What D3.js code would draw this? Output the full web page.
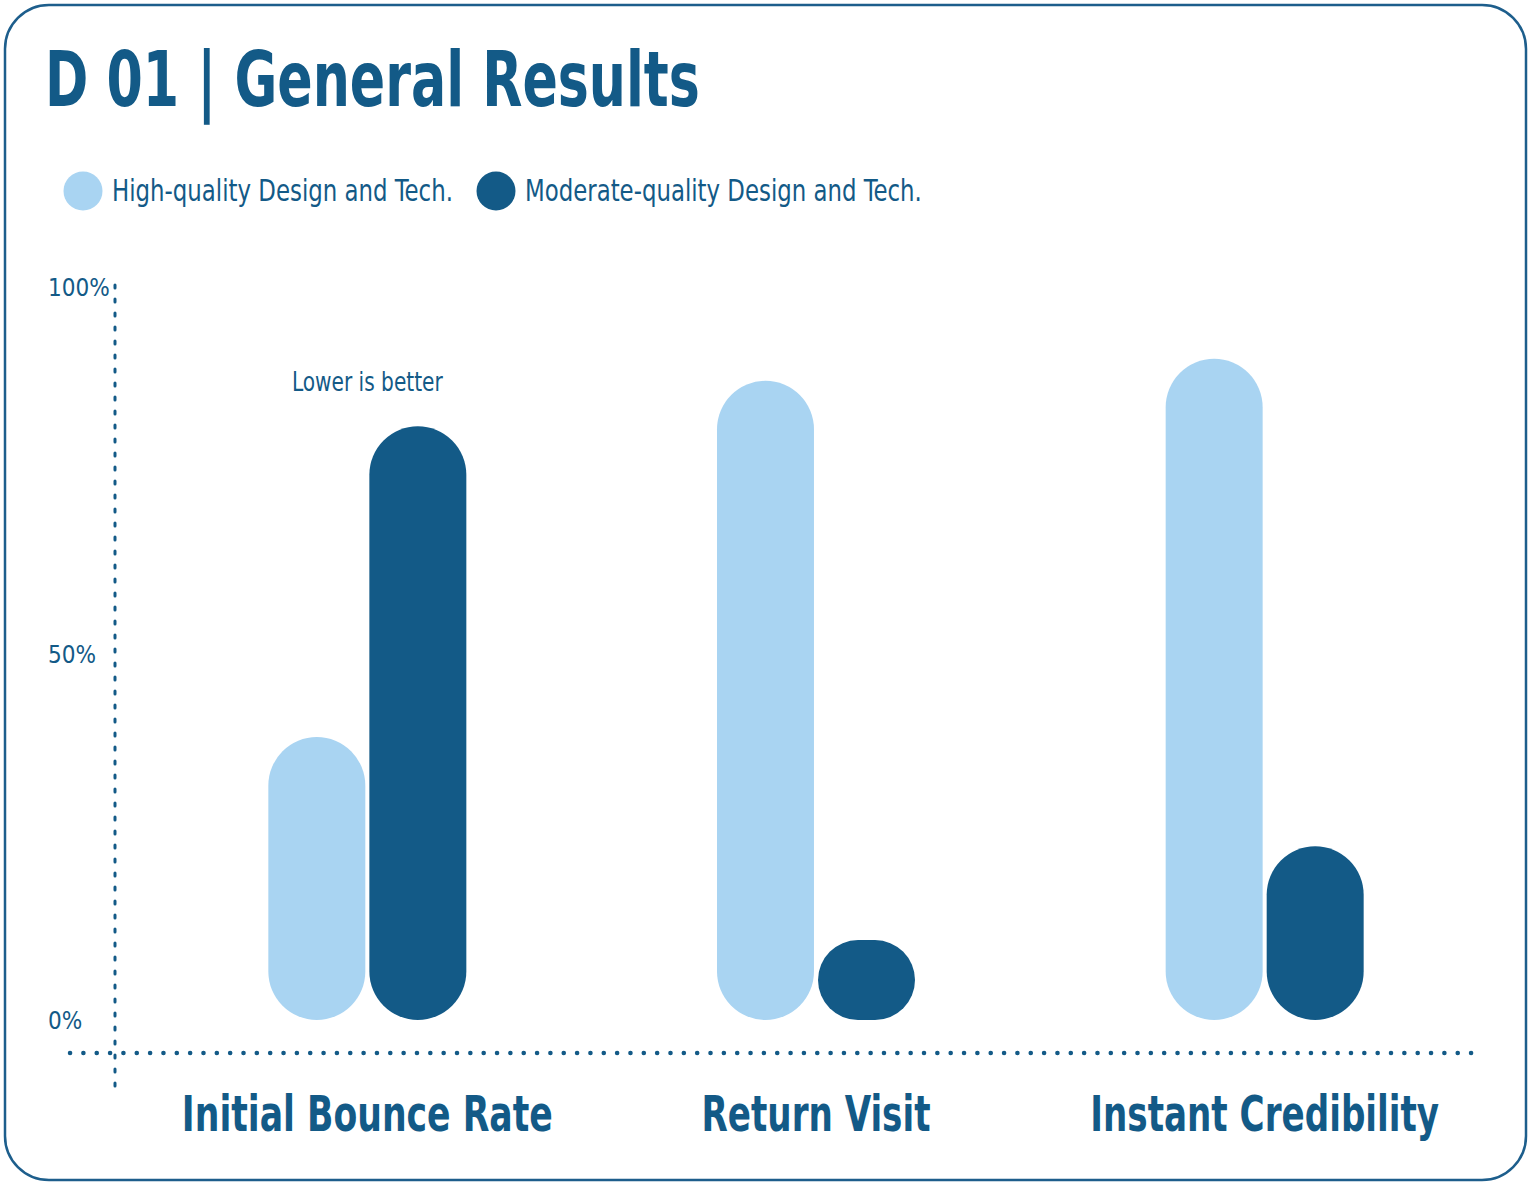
<!DOCTYPE html>
<html>
<head>
<meta charset="utf-8">
<script src="https://cdn.jsdelivr.net/npm/d3@7"></script>
<style>
  html, body { margin: 0; padding: 0; background: #fff; }
  svg { display: block; }
  text { font-family: "Liberation Sans Narrow", "DejaVu Sans Condensed", "Liberation Sans", sans-serif; }
</style>
</head>
<body>
<div id="chart"></div>
<script>
// data
const categories = ["Initial Bounce Rate", "Return Visit", "Instant Credibility"];
const seriesNames = ["High-quality Design and Tech.", "Moderate-quality Design and Tech."];
const highQuality = [38.6, 87.2, 90.2];
const moderateQuality = [81.0, 10.9, 23.7];
const yTicks = [0, 50, 100];
const yTickLabels = ["0%", "50%", "100%"];

const dark = "#135a87";
const light = "#a9d4f2";

const W = 1536, H = 1185;

const svg = d3.select("#chart")
    .append("svg")
    .attr("width", W)
    .attr("height", H);

// border
svg.append("rect")
    .attr("x", 5).attr("y", 5)
    .attr("width", 1521).attr("height", 1175)
    .attr("rx", 44).attr("ry", 44)
    .attr("fill", "#fff")
    .attr("stroke", "#1d5e8c")
    .attr("stroke-width", 2.5);

// helper: squeeze text horizontally to a measured width (x,y = anchor point)
function fit(sel, x, y, w) {
    const natural = sel.node().getComputedTextLength();
    const k = Math.min(1, w / natural);
    sel.attr("x", 0).attr("y", 0)
        .attr("transform", `translate(${x},${y}) scale(${k},1)`);
    return sel;
}

// title
fit(svg.append("text")
    .attr("fill", dark)
    .attr("font-size", 76)
    .attr("font-weight", "bold")
    .text("D 01 | General Results"), 45, 106, 655);

// legend
const legendPos = [{cx: 83, tx: 112, w: 341}, {cx: 496, tx: 525, w: 397}];
const legend = svg.append("g");
seriesNames.forEach((name, i) => {
    legend.append("circle")
        .attr("cx", legendPos[i].cx).attr("cy", 191).attr("r", 19.5)
        .attr("fill", i === 0 ? light : dark);
    fit(legend.append("text")
        .attr("fill", dark)
        .attr("font-size", 31)
        .text(name), legendPos[i].tx, 201, legendPos[i].w);
});

// scales
const y = d3.scaleLinear().domain([0, 100]).range([1020, 287]);
const x = d3.scaleBand().domain(categories).range([143, 1489]).padding(0);
const xSub = d3.scaleBand().domain(seriesNames).range([-99, 99]).paddingInner(0.04);
const color = d3.scaleOrdinal().domain(seriesNames).range([light, dark]);

// axes lines (dotted)
svg.append("line")
    .attr("x1", 115).attr("x2", 115)
    .attr("y1", 285).attr("y2", 1092)
    .attr("stroke", dark)
    .attr("stroke-width", 3)
    .attr("stroke-linecap", "round")
    .attr("stroke-dasharray", "3 11");

svg.append("line")
    .attr("x1", 70).attr("x2", 1472)
    .attr("y1", 1053).attr("y2", 1053)
    .attr("stroke", dark)
    .attr("stroke-width", 4.5)
    .attr("stroke-linecap", "round")
    .attr("stroke-dasharray", "0.1 13.243");

// y tick labels
const yAxis = svg.append("g")
    .call(d3.axisLeft(y).tickValues(yTicks).tickSize(0)
        .tickFormat((d, i) => yTickLabels[i]));
yAxis.select(".domain").remove();
yAxis.selectAll("text")
    .attr("x", 48)
    .attr("dy", "0.36em")
    .attr("text-anchor", "start")
    .attr("fill", dark)
    .attr("font-size", 24)
    .style("font-family", "'Liberation Sans Narrow', 'DejaVu Sans Condensed', sans-serif");

// bars
const rows = categories.map((c, i) => ({cat: c, values: [highQuality[i], moderateQuality[i]]}));
const groups = svg.selectAll(".group")
    .data(rows)
    .enter()
    .append("g")
    .attr("class", "group")
    .attr("transform", d => `translate(${x(d.cat) + x.bandwidth() / 2},0)`);

groups.selectAll("rect")
    .data(d => d.values.map((v, i) => ({key: seriesNames[i], value: v})))
    .enter()
    .append("rect")
    .attr("x", d => xSub(d.key))
    .attr("y", d => y(d.value))
    .attr("width", xSub.bandwidth())
    .attr("height", d => y(0) - y(d.value))
    .attr("rx", d => Math.min(xSub.bandwidth() / 2, (y(0) - y(d.value)) / 2))
    .attr("fill", d => color(d.key));

// note
fit(svg.append("text")
    .attr("text-anchor", "middle")
    .attr("fill", dark)
    .attr("font-size", 27)
    .text("Lower is better"), x(categories[0]) + x.bandwidth() / 2, 391, 151);

// category labels
const catWidths = [371, 229, 349];
const xAxis = svg.append("g")
    .attr("transform", "translate(0,1053)")
    .call(d3.axisBottom(x).tickSize(0).tickPadding(0));
xAxis.select(".domain").remove();
xAxis.selectAll("text")
    .attr("dy", 0)
    .attr("fill", dark)
    .attr("font-size", 50)
    .attr("font-weight", "bold")
    .style("font-family", "'Liberation Sans Narrow', 'DejaVu Sans Condensed', sans-serif")
    .each(function(d, i) { fit(d3.select(this), 0, 78, catWidths[i]); });
</script>
</body>
</html>
